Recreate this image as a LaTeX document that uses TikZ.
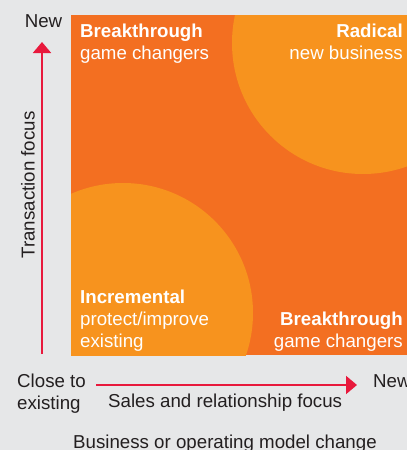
\documentclass[tikz,border=0pt]{standalone}
\usepackage{fontspec}
\setmainfont{Liberation Sans}
\usetikzlibrary{arrows.meta}
\definecolor{MatrixDark}{HTML}{F36F21}
\definecolor{MatrixLight}{HTML}{F7931E}
\definecolor{AxisRed}{HTML}{E8193C}
\definecolor{PageGray}{HTML}{E6E7E8}
\definecolor{LabelGray}{HTML}{231F20}

\begin{document}
\begin{tikzpicture}[x=1pt, y=-1pt,
    every node/.style={inner sep=0pt, font=\fontsize{18.7}{22}\selectfont},
    inbox/.style={text=white},
    axislabel/.style={text=LabelGray},
    axis/.style={AxisRed, line width=2pt, -{Triangle[length=11pt, width=18pt]}}]
  \fill[PageGray] (0,0) rectangle (407,450);
  \useasboundingbox (0,0) rectangle (407,450);
  % matrix with two quarter circles
  \fill[MatrixDark] (71,15) rectangle (407,355);
  \begin{scope}
    \clip (71,15) rectangle (407,355);
    \fill[MatrixLight] (363,43) circle (131pt);
    \fill[MatrixLight] (123,313) circle (130pt);
  \end{scope}
  % quadrant labels
  \node[inbox, anchor=base west] (breakTop) at (80,37) {\bfseries Breakthrough};
  \node[inbox, anchor=base west] (breakTopSub) at (80,59) {game changers};
  \node[inbox, anchor=base east] (radical) at (403,37) {\bfseries Radical};
  \node[inbox, anchor=base east] (radicalSub) at (403,59) {new business};
  \node[inbox, anchor=base west] (incr) at (80,303) {\bfseries Incremental};
  \node[inbox, anchor=base west] (incrSub) at (80,325) {protect/improve};
  \node[inbox, anchor=base west] (incrSubB) at (80,347) {existing};
  \node[inbox, anchor=base east] (breakBot) at (403,325) {\bfseries Breakthrough};
  \node[inbox, anchor=base east] (breakBotSub) at (403,347) {game changers};
  % axes
  \coordinate (yFoot) at (42,354);
  \coordinate (yTip) at (42,42);
  \coordinate (xFoot) at (96,385);
  \coordinate (xTip) at (357,385);
  \draw[axis] (yFoot) -- (yTip);
  \draw[axis] (xFoot) -- (xTip);
  \node[axislabel, anchor=base] (yNew) at (43.5,27) {New};
  \node[axislabel, rotate=90] (yLabel) at (28,185) {Transaction focus};
  \node[axislabel, anchor=base west] (xClose) at (17,387) {Close to};
  \node[axislabel, anchor=base west] (xCloseB) at (17,409) {existing};
  \node[axislabel, anchor=base west] (xNew) at (373,387) {New};
  \node[axislabel, anchor=base west] (xLabel) at (108,407) {Sales and relationship focus};
  \node[axislabel, anchor=base west] (caption) at (73,448) {Business or operating model change};
\end{tikzpicture}
\end{document}
